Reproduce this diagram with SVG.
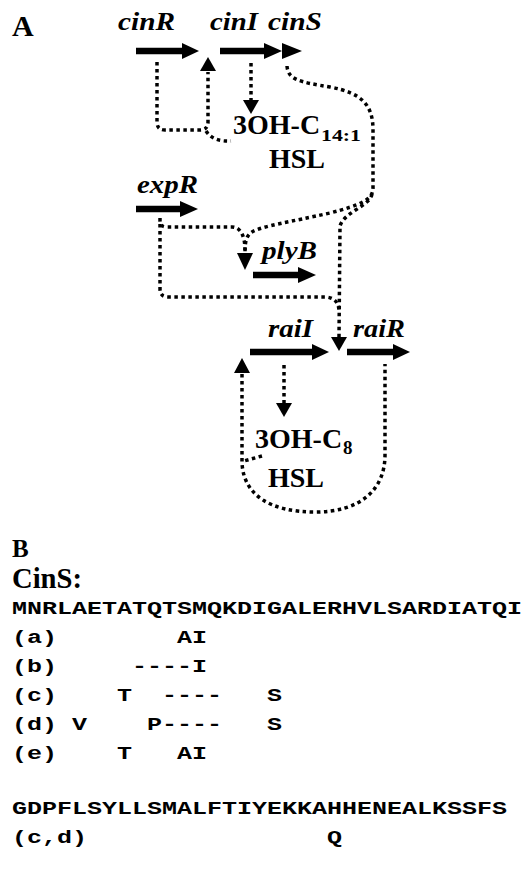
<svg xmlns="http://www.w3.org/2000/svg" width="523" height="869" viewBox="0 0 523 869">
<style>
text { fill: #000; }
.lbl { font-family: "Liberation Serif", serif; font-weight: bold; font-size: 30px; }
.gene { font-family: "Liberation Serif", serif; font-weight: bold; font-style: italic; font-size: 25px; }
.mol { font-family: "Liberation Serif", serif; font-weight: bold; font-size: 28px; }
.sub { font-family: "Liberation Serif", serif; font-weight: bold; font-size: 17px; }
.seq { font-family: "Liberation Mono", "Courier New", monospace; font-weight: bold; font-size: 18px; }
.shaft { stroke: #000; stroke-width: 6.5; fill: none; }
.head { fill: #000; }
.dot { fill: none; stroke: #000; stroke-width: 3.5; stroke-dasharray: 3.5 3.5; }
</style>

<text class="lbl" x="12" y="36">A</text>

<g id="cinR">
  <text class="gene" x="118" y="30" textLength="57" lengthAdjust="spacingAndGlyphs">cinR</text>
  <line class="shaft" x1="136" y1="51" x2="184" y2="51"/>
  <polygon class="head" points="182,43 199,51 182,59"/>
</g>
<g id="cinI">
  <text class="gene" x="210" y="30" textLength="48" lengthAdjust="spacingAndGlyphs">cinI</text>
  <line class="shaft" x1="220" y1="51" x2="266" y2="51"/>
  <polygon class="head" points="264,43 282,51 264,59"/>
</g>
<g id="cinS">
  <text class="gene" x="268" y="30" textLength="54" lengthAdjust="spacingAndGlyphs">cinS</text>
  <polygon class="head" points="282,43 302,51 282,59"/>
</g>
<g id="hsl14">
  <text class="mol" x="233" y="134">3OH-C</text>
  <text class="sub" x="321" y="141" textLength="40" lengthAdjust="spacingAndGlyphs">14:1</text>
  <text class="mol" x="269" y="168">HSL</text>
</g>
<g id="expR">
  <text class="gene" x="137" y="193" textLength="61" lengthAdjust="spacingAndGlyphs">expR</text>
  <line class="shaft" x1="136" y1="209" x2="182" y2="209"/>
  <polygon class="head" points="180,201 198,209 180,217"/>
</g>
<g id="plyB">
  <text class="gene" x="262" y="259" textLength="55" lengthAdjust="spacingAndGlyphs">plyB</text>
  <line class="shaft" x1="253" y1="275" x2="300" y2="275"/>
  <polygon class="head" points="298,267 316,275 298,283"/>
</g>
<g id="raiI">
  <text class="gene" x="268" y="337" textLength="45" lengthAdjust="spacingAndGlyphs">raiI</text>
  <line class="shaft" x1="250" y1="352" x2="314" y2="352"/>
  <polygon class="head" points="312,344 329,352 312,360"/>
</g>
<g id="raiR">
  <text class="gene" x="353" y="337" textLength="52" lengthAdjust="spacingAndGlyphs">raiR</text>
  <line class="shaft" x1="347" y1="352" x2="395" y2="352"/>
  <polygon class="head" points="393,344 410,352 393,360"/>
</g>
<g id="hsl8">
  <text class="mol" x="255" y="448">3OH-C</text>
  <text class="sub" x="343" y="454" style="font-size:19px">8</text>
  <text class="mol" x="268" y="487">HSL</text>
</g>

<g id="connectors">
  <path class="dot" d="M157,62 V122 Q157,130 165,130 H200 Q208,130 208,122 V72"/>
  <path class="dot" d="M206,131 Q213,142 231,141"/>
  <polygon class="head" points="200,71 208,57 216,71"/>

  <path class="dot" d="M251,63 V101"/>
  <polygon class="head" points="243,100 251,114 259,100"/>

  <path class="dot" d="M287,66 C288,80 300,82 330,87 C362,93 373,105 373,130 L373,188 C373,200 360,205 330,213 C290,222 262,226 252,232 C246,236 245,242 245,253"/>
  <path class="dot" d="M372,194 C370,206 344,212 340,226 L339,337"/>
  <path class="dot" d="M160,218 L160,221 Q160,227 167,227 L232,227 C240,227 245,235 245,250"/>
  <path class="dot" d="M160,224 L160,289 Q160,297 168,297 L326,297 Q338,298 339,310"/>
  <polygon class="head" points="237,253 245,270 253,253"/>
  <polygon class="head" points="331,337 339,351 347,337"/>

  <path class="dot" d="M284,365 V404"/>
  <polygon class="head" points="276,403 284,417 292,403"/>

  <polygon class="head" points="234,373 242,358 250,373"/>
  <path class="dot" d="M242,374 L242,462 C243,495 270,512 315,512 C360,512 385,490 385,455 L385,364"/>
  <path class="dot" d="M262,456 L244,461"/>
</g>

<g id="panelB">
  <text class="lbl" x="12" y="557" style="font-size:25px">B</text>
  <text class="lbl" x="12" y="588" style="font-size:29px" textLength="70" lengthAdjust="spacingAndGlyphs">CinS:</text>
  <text class="seq" x="12" y="614" textLength="510" lengthAdjust="spacingAndGlyphs">MNRLAETATQTSMQKDIGALERHVLSARDIATQI</text>

  <text class="seq" x="12" y="643" textLength="45" lengthAdjust="spacingAndGlyphs">(a)</text>
  <text class="seq" x="177" y="643" textLength="30" lengthAdjust="spacingAndGlyphs">AI</text>

  <text class="seq" x="12" y="672" textLength="45" lengthAdjust="spacingAndGlyphs">(b)</text>
  <text class="seq" x="132" y="672" textLength="75" lengthAdjust="spacingAndGlyphs">----I</text>

  <text class="seq" x="12" y="701" textLength="45" lengthAdjust="spacingAndGlyphs">(c)</text>
  <text class="seq" x="117" y="701" textLength="15" lengthAdjust="spacingAndGlyphs">T</text>
  <text class="seq" x="162" y="701" textLength="60" lengthAdjust="spacingAndGlyphs">----</text>
  <text class="seq" x="267" y="701" textLength="15" lengthAdjust="spacingAndGlyphs">S</text>

  <text class="seq" x="12" y="730" textLength="45" lengthAdjust="spacingAndGlyphs">(d)</text>
  <text class="seq" x="72" y="730" textLength="15" lengthAdjust="spacingAndGlyphs">V</text>
  <text class="seq" x="147" y="730" textLength="75" lengthAdjust="spacingAndGlyphs">P----</text>
  <text class="seq" x="267" y="730" textLength="15" lengthAdjust="spacingAndGlyphs">S</text>

  <text class="seq" x="12" y="759" textLength="45" lengthAdjust="spacingAndGlyphs">(e)</text>
  <text class="seq" x="117" y="759" textLength="15" lengthAdjust="spacingAndGlyphs">T</text>
  <text class="seq" x="177" y="759" textLength="30" lengthAdjust="spacingAndGlyphs">AI</text>

  <text class="seq" x="12" y="814" textLength="495" lengthAdjust="spacingAndGlyphs">GDPFLSYLLSMALFTIYEKKAHHENEALKSSFS</text>
  <text class="seq" x="12" y="843" textLength="75" lengthAdjust="spacingAndGlyphs">(c,d)</text>
  <text class="seq" x="327" y="843" textLength="15" lengthAdjust="spacingAndGlyphs">Q</text>
</g>
</svg>
